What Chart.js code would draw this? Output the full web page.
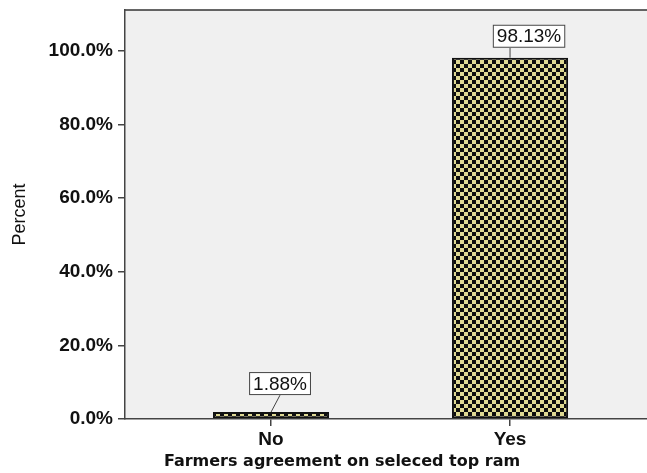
<!DOCTYPE html>
<html>
<head>
<meta charset="utf-8">
<script src="https://cdn.jsdelivr.net/npm/chart.js@4/dist/chart.umd.min.js"></script>
<style>
  html, body { margin: 0; padding: 0; background: #fff; }
  #wrap { width: 647px; height: 473px; position: relative; }
</style>
</head>
<body>
<div id="wrap"><canvas id="c"></canvas></div>
<script>
// Данные с картинки
const categories = ['No', 'Yes'];
const percents = [1.88, 98.13];
const yTicks = [0, 20, 40, 60, 80, 100];
const xTitle = 'Farmers agreement on seleced top ram';
const yTitle = 'Percent';

// Шахматная заливка столбцов
function checkerPattern() {
  const cell = 4;
  const p = document.createElement('canvas');
  p.width = p.height = cell * 2;
  const g = p.getContext('2d');
  g.fillStyle = '#dfd993';
  g.fillRect(0, 0, cell * 2, cell * 2);
  g.fillStyle = '#0d0d0d';
  g.fillRect(0, 0, cell, cell);
  g.fillRect(cell, cell, cell, cell);
  return g.createPattern(p, 'repeat');
}

// Фон области построения + верхняя рамка
const plotFrame = {
  id: 'plotFrame',
  beforeDraw(chart) {
    const { ctx, chartArea: a } = chart;
    ctx.save();
    ctx.fillStyle = '#f0f0f0';
    ctx.fillRect(a.left, a.top, a.right - a.left, a.bottom - a.top);
    ctx.strokeStyle = '#333';
    ctx.lineWidth = 1.5;
    ctx.beginPath();
    ctx.moveTo(a.left, a.top);
    ctx.lineTo(a.right, a.top);
    ctx.stroke();
    ctx.restore();
  },
  afterDraw(chart) {
    // подпись оси X — в SPSS она не по центру области
    const { ctx } = chart;
    ctx.save();
    ctx.font = 'bold 16px "DejaVu Sans"';
    ctx.fillStyle = '#111';
    ctx.textAlign = 'center';
    ctx.textBaseline = 'middle';
    ctx.fillText(xTitle, 342, 462);
    ctx.restore();
  }
};

// Подписи значений в рамках с выноской.
// dx — сдвиг рамки от центра столбца, lx — куда приходит выноска, dy — длина по вертикали.
const boxLabels = {
  id: 'boxLabels',
  afterDatasetsDraw(chart, args, opts) {
    const { ctx } = chart;
    const meta = chart.getDatasetMeta(0);
    ctx.save();
    ctx.font = '19px "Liberation Sans", Arial, sans-serif';
    ctx.textAlign = 'center';
    ctx.textBaseline = 'middle';
    meta.data.forEach((bar, i) => {
      const off = opts.offsets[i] || { dx: 0, lx: 0, dy: 10 };
      const text = percents[i].toFixed(2) + '%';
      const w = ctx.measureText(text).width + 8;
      const h = 23;
      const cx = bar.x + off.dx;
      const bottom = bar.y - off.dy;
      ctx.strokeStyle = '#444';
      ctx.lineWidth = 1;
      ctx.beginPath();
      ctx.moveTo(bar.x, bar.y);
      ctx.lineTo(bar.x + off.lx, bottom);
      ctx.stroke();
      ctx.fillStyle = '#fff';
      ctx.fillRect(cx - w / 2, bottom - h, w, h);
      ctx.strokeRect(cx - w / 2 + 0.5, bottom - h + 0.5, w - 1, h - 1);
      ctx.fillStyle = '#111';
      ctx.fillText(text, cx, bottom - h / 2 + 1);
    });
    ctx.restore();
  }
};

const tickFont = { family: '"Liberation Sans", Arial, sans-serif', size: 19, weight: 'bold' };

new Chart(document.getElementById('c'), {
  type: 'bar',
  data: {
    datasets: [{
      data: categories.map((c, i) => ({ x: i, y: percents[i] })),
      backgroundColor: checkerPattern(),
      borderColor: '#111',
      borderWidth: 2,
      borderSkipped: false,
      categoryPercentage: 1,
      barPercentage: 0.486,
    }]
  },
  options: {
    responsive: true,
    maintainAspectRatio: false,
    animation: false,
    layout: { padding: { top: 10, right: 0, left: 0, bottom: 0 } },
    plugins: {
      legend: { display: false },
      tooltip: { enabled: false },
      boxLabels: { offsets: [{ dx: 9, lx: 9, dy: 17 }, { dx: 19, lx: 0, dy: 10 }] },
    },
    scales: {
      x: {
        type: 'linear',
        offset: false,
        min: -0.611,
        max: 1.573,
        afterBuildTicks: (s) => { s.ticks = categories.map((c, i) => ({ value: i })); },
        afterFit: (s) => { s.height = 54; s.paddingLeft = 0; s.paddingRight = 0; },
        grid: { offset: false, drawOnChartArea: false, tickLength: 7, color: '#444', lineWidth: 1.5 },
        border: { color: '#444', width: 1.5 },
        ticks: {
          color: '#111',
          font: tickFont,
          padding: 2,
          maxRotation: 0,
          callback: (v) => categories[v],
        },
      },
      y: {
        min: 0,
        max: 111.1,
        afterBuildTicks: (s) => { s.ticks = yTicks.map(v => ({ value: v })); },
        afterFit: (s) => { s.width = 125; s.paddingTop = 0; s.paddingBottom = 0; },
        grid: { drawOnChartArea: false, tickLength: 7, color: '#444', lineWidth: 1.5 },
        border: { color: '#444', width: 1.5 },
        ticks: {
          color: '#111',
          font: tickFont,
          padding: 5,
          callback: (v) => v.toFixed(1) + '%',
        },
        title: {
          display: true,
          text: yTitle,
          color: '#111',
          font: { family: '"Liberation Sans", Arial, sans-serif', size: 18 },
          padding: { top: 9, bottom: 0 },
        },
      },
    },
  },
  plugins: [plotFrame, boxLabels],
});
</script>
</body>
</html>
